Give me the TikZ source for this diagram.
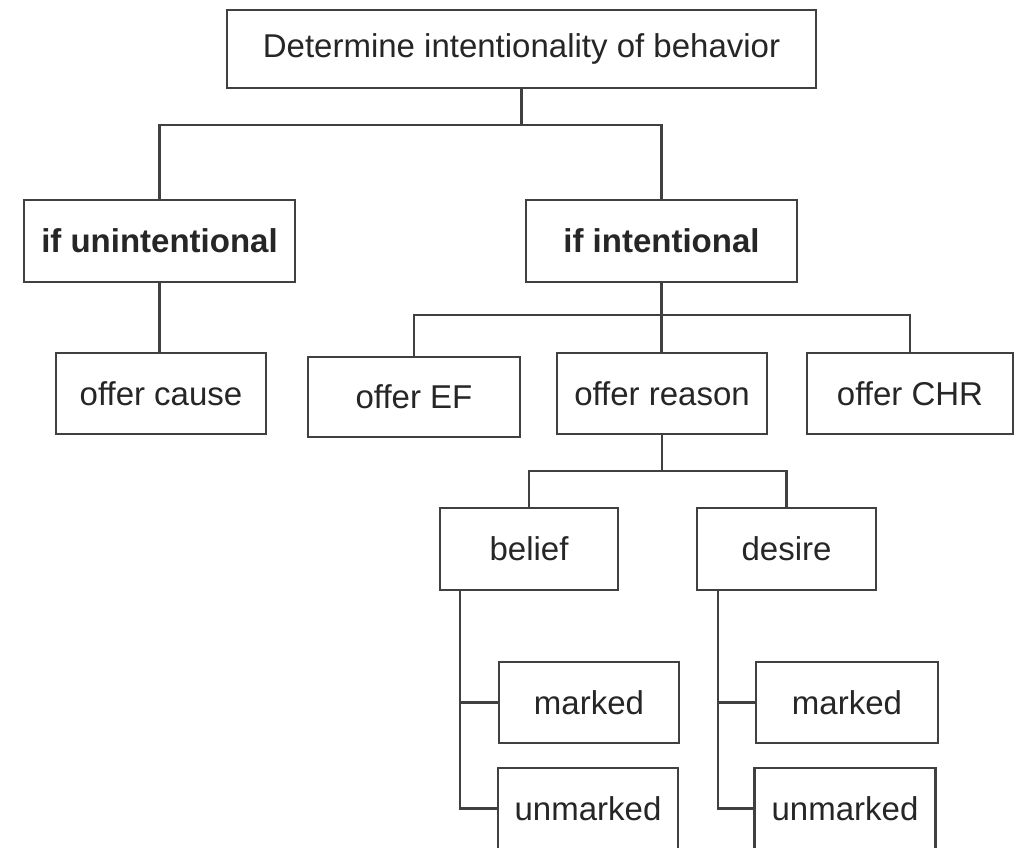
\documentclass[tikz,border=0pt]{standalone}
\usepackage{fontspec}
\setmainfont{Liberation Sans}
\definecolor{linegray}{HTML}{404040}
\definecolor{textgray}{HTML}{262626}
\begin{document}
\begin{tikzpicture}[x=1pt,y=-1pt,
  box/.style={draw=linegray, line width=2.3pt, fill=white, text=textgray,
    inner sep=0pt, font=\fontsize{33}{38}\selectfont},
  boldbox/.style={box, font=\fontsize{33}{38}\selectfont\bfseries},
  conn/.style={draw=linegray, line width=2.3pt}]
\useasboundingbox (0,0) rectangle (1017,848);
\fill[white] (0,0) rectangle (1017,848);
% nodes
\node[box, minimum width=589, minimum height=78] (top) at (521.5,49) {Determine intentionality of behavior};
\node[boldbox, minimum width=271, minimum height=82] (unint) at (159.5,241) {if unintentional};
\node[boldbox, minimum width=271, minimum height=82] (int) at (661.5,241) {if intentional};
\node[box, minimum width=210, minimum height=81] (cause) at (161,393.5) {offer cause};
\node[box, minimum width=212, minimum height=80] (ef) at (414,397) {offer EF};
\node[box, minimum width=210, minimum height=81] (reason) at (662,393.5) {offer reason};
\node[box, minimum width=206, minimum height=81] (chr) at (910,393.5) {offer CHR};
\node[box, minimum width=178, minimum height=82] (belief) at (529,549) {belief};
\node[box, minimum width=179, minimum height=82] (desire) at (786.5,549) {desire};
\node[box, minimum width=180, minimum height=81] (mL) at (589,702.5) {marked};
\node[box, minimum width=180, minimum height=81] (uL) at (588,808.5) {unmarked};
\node[box, minimum width=182, minimum height=81] (mR) at (847,702.5) {marked};
\node[box, minimum width=181, minimum height=81] (uR) at (845,808.5) {unmarked};
% junction coordinates
\coordinate (j1) at (521.5,125);
\coordinate (j2) at (661.5,315);
\coordinate (j3) at (662,471);
\coordinate (bL) at (460,590);
\coordinate (bR) at (718,590);
% connectors
\draw[conn] (top.south) -- (j1);
\draw[conn] (j1) -| (unint.north);
\draw[conn] (j1) -| (int.north);
\draw[conn] (unint.south) -- (cause.north -| unint.south);
\draw[conn] (int.south) -- (j2);
\draw[conn] (j2) -| (ef.north);
\draw[conn] (j2) -- (reason.north -| j2);
\draw[conn] (j2) -| (chr.north);
\draw[conn] (reason.south) -- (j3);
\draw[conn] (j3) -| (belief.north);
\draw[conn] (j3) -| (desire.north);
\draw[conn] (bL) |- (uL.west);
\draw[conn] (bL |- mL.west) -- (mL.west);
\draw[conn] (bR) |- (uR.west);
\draw[conn] (bR |- mR.west) -- (mR.west);
\end{tikzpicture}
\end{document}
